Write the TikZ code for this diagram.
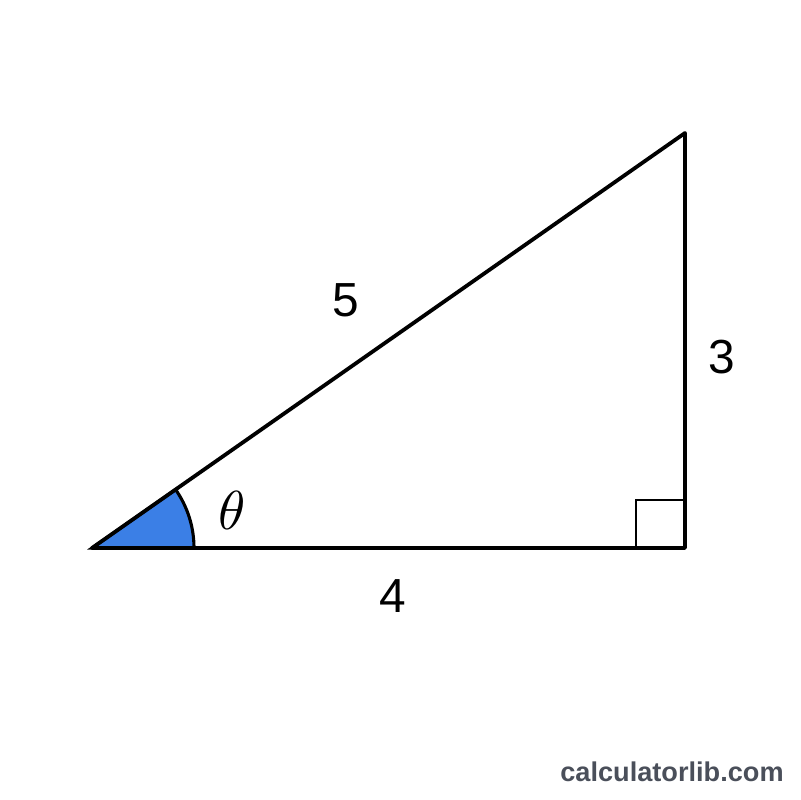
\documentclass[tikz,border=0pt]{standalone}
\usepackage{fontspec}
\usepackage{amsmath}
\usetikzlibrary{calc}
\usetikzlibrary{positioning}
\newfontfamily\labfont{Liberation Sans}
\definecolor{anglefill}{HTML}{3B7FE6}
\definecolor{markgray}{HTML}{4A4F5A}

\begin{document}
\begin{tikzpicture}[x=0.025cm,y=-0.025cm,
    side/.style={draw,line width=2.7pt,line join=round},
    sidelab/.style={font=\labfont\fontsize{34}{34}\selectfont,inner sep=0pt}]
  \useasboundingbox (0,0) rectangle (800,800);

  \coordinate (A) at (92,548);
  \coordinate (B) at (685,548);
  \coordinate (C) at (685,133);

  % angle at A
  \path [fill=anglefill,draw,line width=2.2pt]
    (A) -- ($(A)+(102,0)$) arc [start angle=0,end angle=35,x radius=102,y radius=-102] -- cycle;

  % right angle mark
  \path [draw,line width=1.6pt] ($(B)+(-49,0)$) -- ($(B)+(-49,-48)$) -- ($(B)+(0,-48)$);

  \path [side] (A) -- (B) -- (C) -- cycle;

  \node [sidelab] (hyp) at (346,300) {5};
  \node [sidelab] (opp) at (722,357) {3};
  \node [sidelab] (adj) at (393,596) {4};
  \node [inner sep=0pt,scale=3.9] (theta) at (232,510) {$\theta$};

  \node [inner sep=0pt,text=markgray,font=\labfont\bfseries\fontsize{19.3}{19.3}\selectfont] (mark) at (672,772) {calculatorlib.com};
\end{tikzpicture}
\end{document}
